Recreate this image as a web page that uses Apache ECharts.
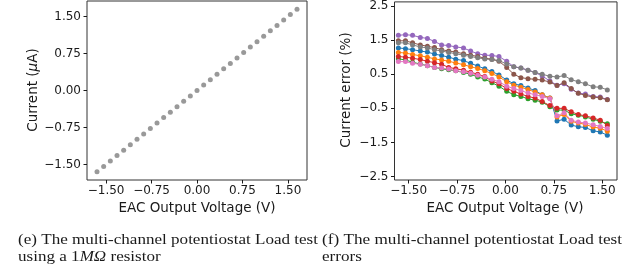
<!DOCTYPE html>
<html><head><meta charset="utf-8">
<script src="https://cdn.jsdelivr.net/npm/echarts@6/dist/echarts.min.js"></script>
<style>html,body{margin:0;padding:0;background:#fff}#c{width:640px;height:277px}</style>
</head><body><div id="c"></div>
<script>
// ---- (e) load test with 1 MOhm resistor ----
const loadVoltage = [-1.65,-1.54,-1.43,-1.32,-1.21,-1.10,-0.99,-0.88,-0.77,-0.66,-0.55,-0.44,-0.33,-0.22,-0.11,0.00,0.11,0.22,0.33,0.44,0.55,0.66,0.77,0.88,0.99,1.10,1.21,1.32,1.43,1.54,1.65];
const loadCurrent = [-1.65,-1.54,-1.43,-1.32,-1.21,-1.10,-0.99,-0.88,-0.77,-0.66,-0.55,-0.44,-0.33,-0.22,-0.11,0.00,0.11,0.22,0.33,0.44,0.55,0.66,0.77,0.88,0.99,1.10,1.21,1.32,1.43,1.54,1.65];
const loadTicks = [-1.5,-0.75,0,0.75,1.5];

// ---- (f) load test errors (%) per channel ----
const errVoltage = [-1.66,-1.55,-1.44,-1.32,-1.21,-1.10,-0.99,-0.88,-0.77,-0.65,-0.54,-0.43,-0.32,-0.21,-0.10,0.02,0.13,0.24,0.35,0.46,0.57,0.69,0.80,0.91,1.02,1.13,1.24,1.36,1.47,1.58];
const errBlue   = [1.27,1.25,1.22,1.18,1.15,1.09,1.05,1.00,0.94,0.90,0.82,0.74,0.66,0.58,0.48,0.33,0.22,0.17,0.10,0.02,-0.10,-0.20,-0.87,-0.82,-0.99,-1.04,-1.06,-1.16,-1.19,-1.29];
const errOrange = [1.14,1.12,1.08,1.04,1.00,0.95,0.92,0.88,0.83,0.78,0.72,0.67,0.60,0.52,0.42,0.28,0.18,0.12,0.05,-0.02,-0.10,-0.20,-0.75,-0.68,-0.88,-0.93,-0.97,-1.05,-1.08,-1.17];
const errGreen  = [0.95,0.92,0.85,0.80,0.75,0.70,0.66,0.63,0.60,0.55,0.50,0.42,0.36,0.25,0.15,0.00,-0.10,-0.15,-0.22,-0.26,-0.32,-0.45,-0.55,-0.55,-0.66,-0.70,-0.75,-0.82,-0.88,-0.95];
const errRed    = [1.02,1.00,0.97,0.93,0.88,0.84,0.79,0.70,0.66,0.62,0.56,0.50,0.43,0.30,0.22,0.08,0.00,-0.08,-0.15,-0.20,-0.30,-0.42,-0.50,-0.50,-0.60,-0.68,-0.72,-0.78,-0.85,-1.00];
const errPurple = [1.64,1.66,1.64,1.58,1.55,1.46,1.36,1.34,1.30,1.27,1.18,1.10,1.06,1.05,1.02,0.88,0.72,0.68,0.62,0.55,0.45,0.30,0.18,0.22,0.06,-0.05,-0.08,-0.15,-0.17,-0.24];
const errBrown  = [1.48,1.48,1.42,1.36,1.32,1.28,1.22,1.18,1.15,1.10,1.06,1.02,0.97,0.94,0.88,0.70,0.50,0.40,0.37,0.35,0.33,0.27,0.17,0.25,0.08,-0.06,-0.12,-0.17,-0.19,-0.25];
const errPink   = [0.87,0.87,0.82,0.79,0.75,0.70,0.68,0.65,0.60,0.57,0.53,0.47,0.42,0.35,0.28,0.15,0.08,0.02,-0.05,-0.10,-0.15,-0.22,-0.72,-0.63,-0.85,-0.90,-0.93,-0.98,-1.03,-1.09];
const errGray   = [1.42,1.42,1.36,1.30,1.27,1.22,1.18,1.14,1.10,1.06,1.02,0.98,0.95,0.93,0.90,0.80,0.72,0.68,0.62,0.55,0.50,0.44,0.42,0.46,0.34,0.28,0.22,0.13,0.12,0.04];
const errXTicks = [-1.5,-0.75,0,0.75,1.5];
const errYTicks = [-2.5,-1.5,-0.5,0.5,1.5,2.5];

const channelSeries = [
  ['#1f77b4', errBlue], ['#ff7f0e', errOrange], ['#2ca02c', errGreen], ['#d62728', errRed],
  ['#9467bd', errPurple], ['#8c564b', errBrown], ['#e377c2', errPink], ['#7f7f7f', errGray]
];

const TXT = '#1a1a1a';
const FONT = 'DejaVu Sans';
const fmt = d => v => v.toFixed(d).replace('-', '\u2212');

function valueAxis(idx, min, max, ticks, digits) {
  return {
    type: 'value', gridIndex: idx, min: min, max: max,
    axisLine: { show: false, onZero: false },
    splitLine: { show: false },
    axisTick: { show: true, length: 3.5, lineStyle: { color: TXT, width: 1 }, customValues: ticks },
    axisLabel: { show: true, customValues: ticks, formatter: fmt(digits), color: TXT, fontFamily: FONT, fontSize: 12 }
  };
}

const chart = echarts.init(document.getElementById('c'), null, { renderer: 'canvas' });

const xA0 = valueAxis(0, -1.815, 1.815, loadTicks, 2); xA0.axisLabel.margin = 5;
const yA0 = valueAxis(0, -1.815, 1.815, loadTicks, 2); yA0.axisLabel.margin = 6;
const xA1 = valueAxis(1, -1.72, 1.73, errXTicks, 2); xA1.axisLabel.margin = 5;
const yA1 = valueAxis(1, -2.6, 2.62, errYTicks, 1); yA1.axisLabel.margin = 6;

const series = [{
  type: 'scatter', xAxisIndex: 0, yAxisIndex: 0, symbol: 'circle', symbolSize: 5,
  itemStyle: { color: '#7f7f7f' }, silent: true,
  data: loadVoltage.map((v, i) => [v, loadCurrent[i]])
}];
channelSeries.forEach(([c, vals]) => series.push({
  type: 'line', xAxisIndex: 1, yAxisIndex: 1, symbol: 'circle', symbolSize: 5, showSymbol: true,
  lineStyle: { color: c, width: 1 }, itemStyle: { color: c, borderWidth: 0 }, silent: true, animation: false,
  data: errVoltage.map((v, i) => [v, vals[i]])
}));

function label(x, y, text, opts) {
  return { type: 'text', x: x, y: y, silent: true,
    style: Object.assign({ text: text, fill: TXT, font: '13.5px ' + FONT, align: 'center', verticalAlign: 'middle' }, opts || {}) };
}

// captions: LaTeX-justified first lines, 300 px wide
const CAP_PX = 15;
const capFont = CAP_PX + 'px "Liberation Serif"';
const mctx = document.createElement('canvas').getContext('2d');
mctx.font = capFont;
const capLine1e = '(e) The multi-channel potentiostat Load test';
const capLine1f = '(f) The multi-channel potentiostat Load test';
const sE = 300 / mctx.measureText(capLine1e).width;
const sF = 300 / mctx.measureText(capLine1f).width;
const sc = Math.min(sE, sF);

function caption(x, y, text, s, rich) {
  const el = label(x, y, text, { font: capFont, align: 'left' });
  if (rich) el.style.rich = rich;
  el.scaleX = s;
  return el;
}

chart.setOption({
  animation: false,
  backgroundColor: '#fff',
  grid: [
    { left: 87, top: 1, width: 220, height: 179, show: true, borderColor: '#333', borderWidth: 1, backgroundColor: 'transparent' },
    { left: 394.5, top: 1, width: 222.5, height: 179, show: true, borderColor: '#333', borderWidth: 1, backgroundColor: 'transparent' }
  ],
  xAxis: [xA0, xA1],
  yAxis: [yA0, yA1],
  series: series,
  graphic: [
    Object.assign(label(33, 90, ''), { rotation: Math.PI / 2, style: { text: '{a|Current (}{b|\u03bc}{a|A)}', align: 'center', verticalAlign: 'middle',
      rich: { a: { font: '13.5px ' + FONT, fill: TXT }, b: { font: 'italic 13.5px ' + FONT, fill: TXT } } } }),
    Object.assign(label(346, 90, 'Current error (%)'), { rotation: Math.PI / 2 }),
    label(197, 208, 'EAC Output Voltage (V)'),
    label(505, 208, 'EAC Output Voltage (V)'),
    caption(18, 240, capLine1e, sE),
    caption(18, 257, '{a|using a 1}{b|M\u03a9}{a| resistor}', sc,
      { a: { font: capFont, fill: TXT }, b: { font: 'italic ' + capFont, fill: TXT } }),
    caption(322, 240, capLine1f, sF),
    caption(322, 257, 'errors', sc)
  ]
});
</script></body></html>
